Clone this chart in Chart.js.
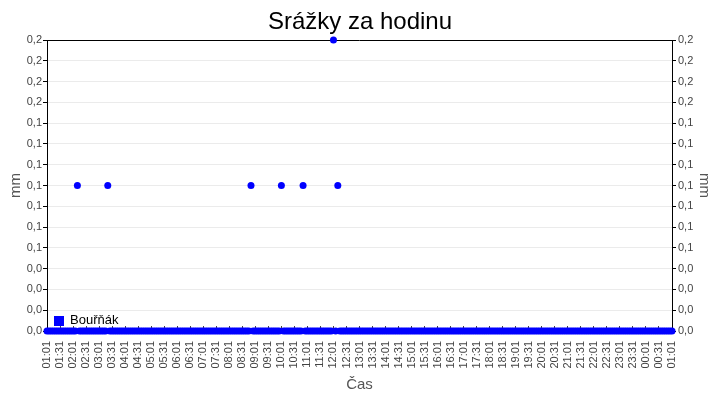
<!DOCTYPE html>
<html><head><meta charset="utf-8">
<script src="https://cdn.jsdelivr.net/npm/chart.js@4/dist/chart.umd.min.js"></script>
<style>html,body{margin:0;padding:0;background:#fff}#w{width:720px;height:400px}</style>
</head><body><div id="w"><canvas id="c" width="720" height="400"></canvas></div>
<script>
const chartTitle = 'Srážky za hodinu';
const seriesName = 'Bouřňák';
const xAxisTitle = 'Čas';
const yAxisTitle = 'mm';
const times = [
 '01:01','01:06','01:11','01:16','01:21','01:26','01:31','01:36','01:41','01:46','01:51','01:56',
 '02:01','02:06','02:11','02:16','02:21','02:26','02:31','02:36','02:41','02:46','02:51','02:56',
 '03:01','03:06','03:11','03:16','03:21','03:26','03:31','03:36','03:41','03:46','03:51','03:56',
 '04:01','04:06','04:11','04:16','04:21','04:26','04:31','04:36','04:41','04:46','04:51','04:56',
 '05:01','05:06','05:11','05:16','05:21','05:26','05:31','05:36','05:41','05:46','05:51','05:56',
 '06:01','06:06','06:11','06:16','06:21','06:26','06:31','06:36','06:41','06:46','06:51','06:56',
 '07:01','07:06','07:11','07:16','07:21','07:26','07:31','07:36','07:41','07:46','07:51','07:56',
 '08:01','08:06','08:11','08:16','08:21','08:26','08:31','08:36','08:41','08:46','08:51','08:56',
 '09:01','09:06','09:11','09:16','09:21','09:26','09:31','09:36','09:41','09:46','09:51','09:56',
 '10:01','10:06','10:11','10:16','10:21','10:26','10:31','10:36','10:41','10:46','10:51','10:56',
 '11:01','11:06','11:11','11:16','11:21','11:26','11:31','11:36','11:41','11:46','11:51','11:56',
 '12:01','12:06','12:11','12:16','12:21','12:26','12:31','12:36','12:41','12:46','12:51','12:56',
 '13:01','13:06','13:11','13:16','13:21','13:26','13:31','13:36','13:41','13:46','13:51','13:56',
 '14:01','14:06','14:11','14:16','14:21','14:26','14:31','14:36','14:41','14:46','14:51','14:56',
 '15:01','15:06','15:11','15:16','15:21','15:26','15:31','15:36','15:41','15:46','15:51','15:56',
 '16:01','16:06','16:11','16:16','16:21','16:26','16:31','16:36','16:41','16:46','16:51','16:56',
 '17:01','17:06','17:11','17:16','17:21','17:26','17:31','17:36','17:41','17:46','17:51','17:56',
 '18:01','18:06','18:11','18:16','18:21','18:26','18:31','18:36','18:41','18:46','18:51','18:56',
 '19:01','19:06','19:11','19:16','19:21','19:26','19:31','19:36','19:41','19:46','19:51','19:56',
 '20:01','20:06','20:11','20:16','20:21','20:26','20:31','20:36','20:41','20:46','20:51','20:56',
 '21:01','21:06','21:11','21:16','21:21','21:26','21:31','21:36','21:41','21:46','21:51','21:56',
 '22:01','22:06','22:11','22:16','22:21','22:26','22:31','22:36','22:41','22:46','22:51','22:56',
 '23:01','23:06','23:11','23:16','23:21','23:26','23:31','23:36','23:41','23:46','23:51','23:56',
 '00:01','00:06','00:11','00:16','00:21','00:26','00:31','00:36','00:41','00:46','00:51','00:56',
 '01:01'
];
const precipitation = [
 0,0,0,0,0,0,0,0,0,0,0,0,
 0,0,0.1,0,0,0,0,0,0,0,0,0,
 0,0,0,0,0.1,0,0,0,0,0,0,0,
 0,0,0,0,0,0,0,0,0,0,0,0,
 0,0,0,0,0,0,0,0,0,0,0,0,
 0,0,0,0,0,0,0,0,0,0,0,0,
 0,0,0,0,0,0,0,0,0,0,0,0,
 0,0,0,0,0,0,0,0,0,0,0.1,0,
 0,0,0,0,0,0,0,0,0,0,0,0,
 0.1,0,0,0,0,0,0,0,0,0,0.1,0,
 0,0,0,0,0,0,0,0,0,0,0,0,
 0.2,0,0.1,0,0,0,0,0,0,0,0,0,
 0,0,0,0,0,0,0,0,0,0,0,0,
 0,0,0,0,0,0,0,0,0,0,0,0,
 0,0,0,0,0,0,0,0,0,0,0,0,
 0,0,0,0,0,0,0,0,0,0,0,0,
 0,0,0,0,0,0,0,0,0,0,0,0,
 0,0,0,0,0,0,0,0,0,0,0,0,
 0,0,0,0,0,0,0,0,0,0,0,0,
 0,0,0,0,0,0,0,0,0,0,0,0,
 0,0,0,0,0,0,0,0,0,0,0,0,
 0,0,0,0,0,0,0,0,0,0,0,0,
 0,0,0,0,0,0,0,0,0,0,0,0,
 0,0,0,0,0,0,0,0,0,0,0,0,
 0
];
const yMin = 0, yMax = 0.2, yTickCount = 15;
const labelEvery = 6;

const fmt = v => v.toFixed(1).replace('.', ',');
const tickFont = {family: 'Liberation Sans', size: 11};
const axisTitleFont = {family: 'Liberation Sans', size: 15};

const framePlugin = {
  id: 'frame',
  beforeDatasetsDraw(chart) {
    const {ctx, chartArea: a} = chart;
    ctx.save();
    ctx.strokeStyle = '#000';
    ctx.lineWidth = 1;
    ctx.beginPath();
    ctx.moveTo(a.left, Math.round(a.top) + 0.5);
    ctx.lineTo(a.right, Math.round(a.top) + 0.5);
    ctx.stroke();
    ctx.restore();
  }
};
const legendPlugin = {
  id: 'innerLegend',
  afterDatasetsDraw(chart) {
    const {ctx, chartArea: a} = chart;
    const ds = chart.data.datasets[0];
    ctx.save();
    ctx.fillStyle = ds.pointBackgroundColor;
    ctx.fillRect(a.left + 7, a.bottom - 15, 10, 10);
    ctx.fillStyle = '#000';
    ctx.font = '13px "Liberation Sans"';
    ctx.textBaseline = 'alphabetic';
    ctx.textAlign = 'left';
    ctx.fillText(ds.label, a.left + 23, a.bottom - 7.5);
    ctx.restore();
  }
};

const yCommon = {
  min: yMin, max: yMax,
  ticks: {count: yTickCount, color: '#444', font: tickFont, callback: v => fmt(v)},
  border: {display: true, color: '#000'},
  title: {display: true, text: yAxisTitle, color: '#555', font: axisTitleFont}
};

new Chart(document.getElementById('c'), {
  type: 'line',
  data: {
    labels: times,
    datasets: [{
      label: seriesName,
      data: precipitation,
      showLine: false,
      pointRadius: 3.5,
      pointHoverRadius: 3.5,
      pointBorderWidth: 0,
      pointBackgroundColor: '#0000ff',
      pointBorderColor: '#0000ff',
      backgroundColor: '#0000ff',
      borderColor: '#0000ff',
      clip: false
    }]
  },
  options: {
    responsive: false,
    animation: false,
    devicePixelRatio: 1,
    layout: {padding: 0},
    plugins: {
      legend: {display: false},
      tooltip: {enabled: false},
      title: {display: true, text: chartTitle, color: '#000',
        font: {family: 'Liberation Sans', size: 24, weight: 'normal'},
        padding: {top: 8, bottom: 3.2}}
    },
    scales: {
      x: {
        type: 'category',
        grid: {display: true, drawOnChartArea: false, tickLength: -5,
          tickColor: c => (c.index % labelEvery === 0 ? '#444' : 'rgba(0,0,0,0)')},
        border: {display: true, color: '#000'},
        ticks: {autoSkip: false, maxRotation: 90, minRotation: 90, padding: 15,
          color: '#444', font: tickFont,
          callback: function(v, i) { return i % labelEvery === 0 ? this.getLabelForValue(v) : ''; }},
        title: {display: true, text: xAxisTitle, color: '#555', font: axisTitleFont,
          padding: {top: 0, bottom: 6.5}},
        afterFit: s => { s.height = 69; }
      },
      y: Object.assign({}, yCommon, {
        position: 'left',
        ticks: Object.assign({}, yCommon.ticks, {padding: 1}),
        grid: {color: '#ebebeb', tickColor: '#000', tickLength: 4},
        title: Object.assign({}, yCommon.title, {padding: {top: 7, bottom: 0}}),
        afterFit: s => { s.width = 47; }
      }),
      y2: Object.assign({}, yCommon, {
        position: 'right',
        ticks: Object.assign({}, yCommon.ticks, {padding: 2}),
        grid: {drawOnChartArea: false, tickColor: '#000', tickLength: 4},
        title: Object.assign({}, yCommon.title, {padding: {top: 6.5, bottom: 0}}),
        afterFit: s => { s.width = 48; }
      })
    }
  },
  plugins: [framePlugin, legendPlugin]
});
</script>
</body></html>
